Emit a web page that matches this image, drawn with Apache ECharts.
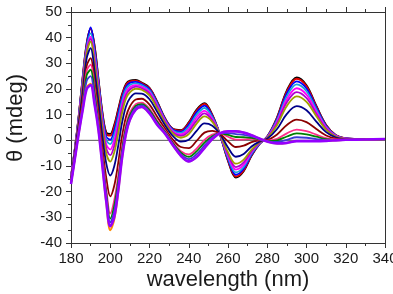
<!DOCTYPE html>
<html>
<head>
<meta charset="utf-8">
<script src="https://cdn.jsdelivr.net/npm/echarts@6/dist/echarts.min.js"></script>
<style>
html,body{margin:0;padding:0;background:#fff;}
#c{width:393px;height:294px;}
</style>
</head>
<body>
<div id="c"></div>
<script>
const wavelengths = [180,182,184,186,188,190,192,194,196,198,200,202,204,206,208,210,213,216,220,224,228,232,236,240,244,248,252,256,260,264,268,272,276,280,285,290,295,300,305,310,315,320,330,340];

const sBlack  = [-14,-3,10,25,38,43.5,37,24,11,3,2.5,6,12,18,22,23.3,23.5,22.5,20.5,15,8.5,4.5,4,7,12,14.5,10,2,-8,-14.5,-12,-6,-1.5,1.5,9,19.5,24.5,21.5,13.5,6,2,0.8,0.5,0.5];
const sRed    = [-14.1,-3.1,9.9,24.7,37.6,43.5,36.5,23.6,10.6,2.5,1.8,5.3,11.4,17.5,21.6,23.0,23.3,22.3,20.3,14.8,8.4,4.4,3.8,6.7,11.6,14.2,9.8,2.0,-7.8,-14.1,-11.7,-5.8,-1.5,1.5,8.8,19.1,24.0,21.1,13.2,5.9,2.0,0.8,0.5,0.5];
const sBlue   = [-14.2,-3.2,9.6,24.2,36.9,44,35.6,22.8,9.7,1.4,0.3,3.8,10.1,16.5,20.8,22.4,22.8,21.9,19.9,14.5,8.1,4.1,3.4,6.1,10.9,13.5,9.4,2.0,-7.3,-13.4,-11.1,-5.5,-1.4,1.4,8.4,18.3,23.0,20.2,12.7,5.6,1.9,0.8,0.5,0.5];
const sCyan   = [-14.3,-3.4,9.2,23.6,36.2,41.7,34.2,21.8,8.7,0.0,-1.5,2.0,8.5,15.3,19.9,21.6,22.2,21.5,19.4,14.0,7.8,3.8,2.9,5.3,10.0,12.6,9.0,2.1,-6.7,-12.5,-10.4,-5.1,-1.3,1.3,7.9,17.2,21.8,19.1,12.0,5.3,1.8,0.7,0.5,0.5];
const sMagenta= [-14.5,-3.7,8.8,22.8,35.2,40.4,32.6,20.6,7.4,-1.6,-3.6,-0.1,6.6,13.8,18.7,20.7,21.5,20.9,18.8,13.5,7.5,3.4,2.3,4.4,8.9,11.5,8.4,2.1,-6.0,-11.4,-9.5,-4.6,-1.1,1.2,7.3,16.0,20.3,17.8,11.2,5.0,1.7,0.7,0.5,0.5];
const sPurple = [-14.7,-3.9,8.4,22.0,34.6,39.5,31.4,19.4,6.2,-3.2,-5.8,-2.3,4.6,12.3,17.5,19.8,20.9,20.3,18.2,12.9,7.1,3.0,1.7,3.5,7.7,10.5,7.8,2.2,-5.4,-10.4,-8.6,-4.2,-1.0,1.0,6.7,14.8,18.8,16.5,10.3,4.6,1.5,0.7,0.5,0.5];
const sOlive  = [-14.9,-4.2,7.9,21.1,33.9,38.5,30.1,18.0,4.7,-5.1,-8.3,-4.8,2.4,10.5,16.2,18.7,20.1,19.7,17.5,12.3,6.7,2.6,1.0,2.4,6.5,9.3,7.2,2.2,-4.6,-9.1,-7.5,-3.6,-0.8,0.9,5.9,13.4,17.1,15.0,9.4,4.1,1.4,0.6,0.4,0.5];
const sNavy   = [-15.4,-4.8,6.9,19.2,32.0,35.9,27.1,15.0,1.6,-9.2,-13.7,-10.2,-2.4,6.8,13.2,16.4,18.3,18.2,16.0,11.0,5.8,1.6,-0.5,0.2,3.7,6.6,5.7,2.4,-2.8,-6.4,-5.3,-2.4,-0.5,0.6,4.4,10.3,13.3,11.7,7.3,3.2,1.1,0.5,0.4,0.5];
const sWine   = [-16.0,-5.6,5.4,16.4,29.0,32,22.9,10.8,-2.9,-14.8,-21.8,-17.8,-9.1,1.5,9.1,13.2,15.9,16.2,13.9,9.1,4.5,0.2,-2.6,-3.0,-0.2,3.0,3.7,2.5,-0.4,-2.6,-2.1,-0.7,0,0.2,2.3,6.0,8.1,7.1,4.4,1.9,0.7,0.4,0.4,0.5];
const sPink   = [-16.5,-6.3,4.3,14.3,27.1,29.5,20.2,7.6,-6.2,-19.1,-28.5,-23.5,-14.2,-2.5,6.0,10.8,14.1,14.7,12.3,7.6,3.6,-0.8,-4.2,-5.5,-3.2,0.2,2.2,2.7,1.4,0.3,0.3,0.6,0.3,-0.1,0.6,2.7,4.2,3.6,2.2,0.9,0.4,0.3,0.3,0.5];
const sGreen  = [-16.6,-6.5,3.8,13.6,25.4,27.5,18.5,6.4,-7.5,-20.8,-30.5,-25.7,-16.2,-4.0,4.8,9.8,13.4,14.1,11.7,7.1,3.2,-1.2,-4.8,-6.4,-4.3,-0.9,1.6,2.7,2.1,1.3,1.2,1.0,0.4,-0.3,0.0,1.5,2.7,2.3,1.4,0.5,0.2,0.3,0.3,0.5];
const sRoyal  = [-16.8,-6.8,3.4,12.8,23.2,25,16.5,5.2,-8.7,-22.4,-32,-27.8,-18.1,-5.5,3.7,8.9,12.7,13.6,11.1,6.5,2.9,-1.6,-5.4,-7.3,-5.4,-2.0,1.1,2.8,2.8,2.4,2.1,1.5,0.6,-0.4,-0.6,0.2,1.2,1.0,0.5,0.2,0.1,0.2,0.3,0.5];
const sOrange = [-17,-7,3,12.2,20.5,22,14.5,4,-10,-24.5,-35,-31,-20.5,-7,2.5,8,12,13,10.5,6,2.5,-2,-6,-8.2,-6.5,-3,0.5,2.8,3.5,3.5,3,2,0.7,-0.5,-1.2,-1,-0.3,-0.3,-0.3,-0.2,0,0.2,0.3,0.5];
const sViolet = [-17,-7,3,12,20,21.5,14,4,-10,-24,-33.5,-30,-20,-7,2.5,8,12,13,10.5,6,2.5,-2,-6,-8.2,-6.5,-3,0.5,2.8,3.5,3.5,3,2,0.7,-0.5,-1.2,-1,-0.3,-0.3,-0.3,-0.2,0,0.2,0.3,0.5];

const seriesNames = ['black','red','blue','cyan','magenta','purple','olive','navy','wine','pink','green','royal','orange','violet'];
const seriesData = [sBlack,sRed,sBlue,sCyan,sMagenta,sPurple,sOlive,sNavy,sWine,sPink,sGreen,sRoyal,sOrange,sViolet];
const seriesColors = ['#000000','#e00000','#0000ff','#1aa3d9','#ff00ff','#b000d0','#a0a000','#00008b','#8b0000','#ff2d8a','#008000','#3b3bd6','#ff8c00','#9400ff'];
const zeroLine = [0,0];
const zeroX = [180,340];

const FONT = "'Liberation Sans', Arial, sans-serif";
const chart = echarts.init(document.getElementById('c'), null, {renderer:'canvas'});

const series = [{
  type:'line', silent:true, symbol:'none',
  data: zeroX.map((x,i)=>[x, zeroLine[i]]),
  lineStyle:{color:'#555', width:1}, z:1
}];
seriesData.forEach((arr, k) => {
  series.push({
    name: seriesNames[k], type:'line', symbol:'none', smooth:0.35,
    data: wavelengths.map((w,i)=>[w, arr[i]]),
    lineStyle:{color: seriesColors[k], width: k===13 ? 2.6 : (k===12 ? 2 : 1.8)},
    z: 2
  });
});

const axisLineStyle = {color:'#333', width:1};
chart.setOption({
  animation:false,
  grid:{left:71, right:8, top:12, bottom:51, containLabel:false, outerBoundsMode:'none'},
  xAxis:[{
    type:'value', min:180, max:340, interval:20, position:'bottom',
    axisLine:{show:true, onZero:false, lineStyle:axisLineStyle},
    axisTick:{show:true, inside:false, length:5, lineStyle:axisLineStyle},
    minorTick:{show:true, splitNumber:2, length:3, lineStyle:axisLineStyle},
    splitLine:{show:false},
    axisLabel:{color:'#1a1a1a', fontSize:15, fontFamily:FONT, margin:8, hideOverlap:false}
  },{
    type:'value', min:180, max:340, interval:20, position:'top',
    axisLine:{show:true, onZero:false, lineStyle:axisLineStyle},
    axisTick:{show:true, inside:false, length:5, lineStyle:axisLineStyle},
    minorTick:{show:true, splitNumber:2, length:3, lineStyle:axisLineStyle},
    splitLine:{show:false},
    axisLabel:{show:false}
  }],
  yAxis:[{
    type:'value', min:-40, max:50, interval:10, position:'left',
    axisLine:{show:true, onZero:false, lineStyle:axisLineStyle},
    axisTick:{show:true, inside:false, length:5, lineStyle:axisLineStyle},
    minorTick:{show:true, splitNumber:2, length:3, lineStyle:axisLineStyle},
    splitLine:{show:false},
    axisLabel:{color:'#1a1a1a', fontSize:15, fontFamily:FONT, margin:9}
  },{
    type:'value', min:-40, max:50, interval:10, position:'right',
    axisLine:{show:true, onZero:false, lineStyle:axisLineStyle},
    axisTick:{show:false}, splitLine:{show:false}, axisLabel:{show:false}
  }],
  graphic:[{
    type:'text', x:16, y:118, rotation:Math.PI/2,
    style:{text:'θ (mdeg)', font:"22px 'Liberation Sans', Arial, sans-serif", fill:'#1a1a1a', textAlign:'center', textVerticalAlign:'middle'}
  },{
    type:'text', x:228, y:280,
    style:{text:'wavelength (nm)', font:"22px 'Liberation Sans', Arial, sans-serif", fill:'#1a1a1a', textAlign:'center', textVerticalAlign:'middle'}
  }],
  series: series
});
</script>
</body>
</html>
